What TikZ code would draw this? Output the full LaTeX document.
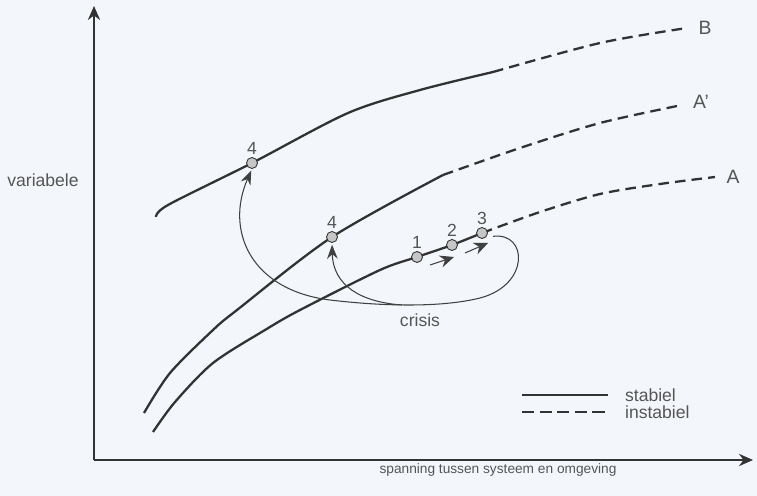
\documentclass[tikz,border=0pt]{standalone}
\usepackage{fontspec}
\setmainfont{Liberation Sans}
\usetikzlibrary{arrows.meta}
\definecolor{papier}{RGB}{243,246,250}
\definecolor{lijn}{RGB}{50,50,50}
\definecolor{tekst}{RGB}{85,85,85}
\tikzset{
  tekstje/.style={text=tekst,font=\fontsize{10}{12}\selectfont,inner sep=1pt},
  punt/.style={circle,draw=lijn,fill=gray!45,inner sep=0pt,minimum size=0.22cm,line width=0.5pt,
    label={[tekstje,label distance=0pt]above:#1}},
  stabiel/.style={draw=lijn,line width=1.3pt},
  instabiel/.style={draw=lijn,line width=1.3pt,dash pattern=on 6pt off 3.5pt},
  pijl/.style={draw=gray!50!black,line width=0.6pt,-{Stealth[length=8pt,width=6pt]}},
  as/.style={draw=gray!40!black,line width=0.9pt,-{Stealth[length=8pt,width=7pt]}}
}
\begin{document}
\begin{tikzpicture}[x=0.02cm,y=-0.02cm]
    % Achtergrond
    \fill[papier] (0,0) rectangle (757,496);
    \useasboundingbox (0,0) rectangle (757,496);

    % Assen
    \coordinate (O) at (94,460);
    \coordinate (xeind) at (753,460);
    \coordinate (yeind) at (94,6);
    \draw[as] (O) -- (xeind);
    \draw[as] (O) -- (yeind);
    \node[tekstje] (yas) at (43,180) {variabele};
    \node[tekstje,font=\fontsize{7.8}{10}\selectfont] (xas) at (498,470) {spanning tussen systeem en omgeving};

    % Kromme B
    \draw[stabiel] plot[smooth,tension=0.5] coordinates {(156,217) (168,205) (252,163) (348,113) (420,90) (493,72)};
    \draw[instabiel] plot[smooth,tension=0.5] coordinates {(493,72) (600,43) (687,28)};
    % Kromme A'
    \draw[stabiel] plot[smooth,tension=0.5] coordinates {(144,413) (170,373) (213,330) (237,310) (332,237) (443,175)};
    \draw[instabiel] plot[smooth,tension=0.5] coordinates {(443,175) (520,148) (600,123) (682,105)};
    % Kromme A
    \draw[stabiel] plot[smooth,tension=0.5] coordinates {(153,432) (175,402) (213,363) (265,330) (300,310) (380,270) (417,257) (452,245) (482,233)};
    \draw[instabiel] plot[smooth,tension=0.5] coordinates {(482,233) (540,212) (600,194) (660,184) (715,177)};

    % Namen van de krommen
    \node[tekstje,font=\fontsize{11}{13}\selectfont] (B) at (705,28) {B};
    \node[tekstje,font=\fontsize{11}{13}\selectfont] (A2) at (701,102) {A’};
    \node[tekstje,font=\fontsize{11}{13}\selectfont] (A) at (733,177) {A};

    % Punten
    \node[punt=4] (b4) at (252,163) {};
    \node[punt=4] (a4) at (332,237) {};
    \foreach \t/\x/\y in {1/417/257, 2/452/245, 3/482/233}
    \node[punt=\t] (p\t) at (\x,\y) {};

    % Kleine pijlen langs A
    \coordinate (s1) at (430,265);
    \coordinate (e1) at (454,257);
    \coordinate (s2) at (465,253);
    \coordinate (e2) at (488,243);
    \draw[pijl,-{Stealth[length=8pt,width=7pt]}] (s1) -- (e1);
    \draw[pijl,-{Stealth[length=8pt,width=7pt]}] (s2) -- (e2);

    % Crisis
    \coordinate (crisisbodem) at (402,305);
    \draw[pijl,shorten <=4pt,shorten >=1pt] (p3.south east) .. controls (528,232) and (530,285) .. (480,298)
        .. controls (440,308) and (380,306) .. (330,300)
        .. controls (250,290) and (225,230) .. (b4.south);
    \draw[pijl,shorten >=1pt] (crisisbodem) .. controls (360,302) and (333,285) .. (a4.south);
    \node[tekstje] (crisis) at (420,320) {crisis};

    % Legenda
    \coordinate (ls1) at (522,395);
    \coordinate (le1) at (608,395);
    \coordinate (ls2) at (522,412);
    \coordinate (le2) at (608,412);
    \draw[stabiel] (ls1) -- (le1);
    \draw[instabiel,dash pattern=on 7pt off 3pt] (ls2) -- (le2);
    \node[tekstje,anchor=west] (stab) at (623,395) {stabiel};
    \node[tekstje,anchor=west] (instab) at (623,412) {instabiel};
\end{tikzpicture}
\end{document}
